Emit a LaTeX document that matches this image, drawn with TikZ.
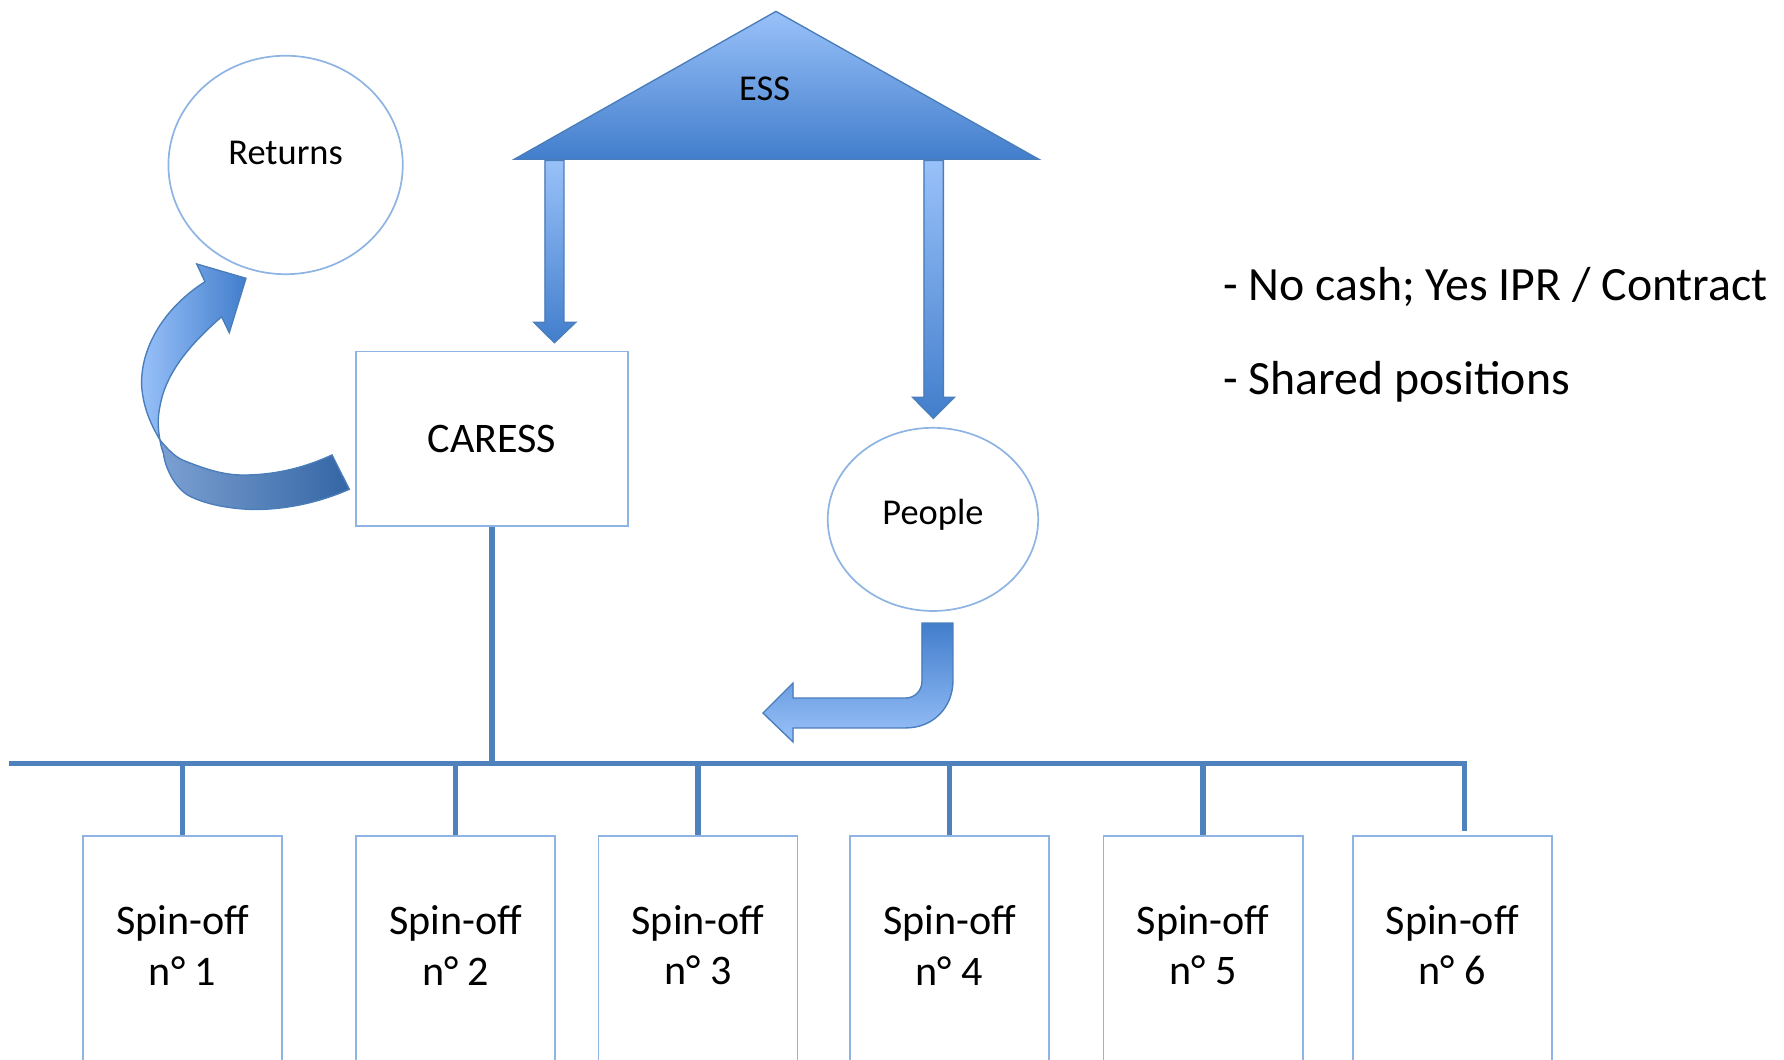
\documentclass[tikz,border=0pt]{standalone}
\usepackage{fontspec}
\setmainfont{Carlito}
\usepackage{tikz}
\usetikzlibrary{positioning,shapes.geometric}

\definecolor{outlineblue}{RGB}{141,180,226}
\definecolor{busblue}{RGB}{79,129,189}
\definecolor{edgeblue}{RGB}{74,126,187}
\definecolor{lightfill}{RGB}{153,193,249}
\definecolor{darkfill}{RGB}{66,126,204}
\definecolor{foldlight}{RGB}{124,160,210}
\definecolor{folddark}{RGB}{52,102,164}

\begin{document}
\begin{tikzpicture}[x=1pt,y=-1pt,
  boxline/.style={draw=outlineblue,line width=1.5pt},
  bus/.style={draw=busblue,line width=4.8pt},
  blockarrow/.style={draw=edgeblue,line width=1.2pt,top color=lightfill,bottom color=darkfill},
  txt/.style={font=\fontsize{32}{38}\selectfont,inner sep=0pt},
  bigtxt/.style={font=\fontsize{37}{44}\selectfont,inner sep=0pt},
  sidetxt/.style={font=\fontsize{42}{50}\selectfont,inner sep=0pt,anchor=base west}]
\useasboundingbox (0,0) rectangle (1568,931);
\clip (0,0) rectangle (1568,931);

% ESS roof
\coordinate (roof) at (682,10);
\coordinate (eaveL) at (452,140);
\coordinate (eaveR) at (913,140);
\filldraw[blockarrow] (roof) -- (eaveR) -- (eaveL) -- cycle;
\node[txt,anchor=base] (ess) at (672,88) {ESS};

% main boxes
\node[boxline,ellipse,txt,minimum width=206,minimum height=192,text height=10pt,text depth=10pt] (returns) at (251,145) {Returns};
\node[boxline,bigtxt,minimum width=239,minimum height=153] (caress) at (432.5,385.5) {CARESS};
\node[boxline,ellipse,txt,minimum width=185,minimum height=161,text height=20pt,text depth=11pt] (people) at (820,456.5) {People};

% arrows down from the roof
\filldraw[blockarrow] (479,141) -- (495.7,141) -- (495.7,283.3) -- (506,283.3) -- (487.3,301.2) -- (469.3,283.3) -- (479,283.3) -- cycle;
\filldraw[blockarrow] (812.1,141) -- (829.1,141) -- (829.1,349.2) -- (838.8,349.2) -- (820.3,367.7) -- (802.1,349.2) -- (812.1,349.2) -- cycle;

% people -> spin-offs
\filldraw[blockarrow,top color=darkfill,bottom color=lightfill] (810.3,547.6) -- (837.6,547.6) -- (837.6,598)
  .. controls (837.6,622) and (820,639.8) .. (796,639.8) -- (697,639.8) -- (697,652.1) -- (670.6,626.7)
  -- (697,600.3) -- (697,613.5) -- (796,613.5) .. controls (804,613.5) and (810.3,607) .. (810.3,599) -- cycle;

% caress -> returns (twisted band)
\filldraw[draw=edgeblue,line width=1.2pt,left color=foldlight,right color=folddark] (140.6,386.7)
  .. controls (150,398) and (156,403) .. (164.1,405.8) .. controls (185,414) and (200,418) .. (216.8,417.5)
  .. controls (245,417) and (270,410) .. (291.8,399.9) -- (307,430)
  .. controls (280,442) and (250,448) .. (222.6,447.8) .. controls (195,447) and (175,441) .. (164.1,434.6)
  .. controls (152,426) and (145,410) .. (143.6,398.4) .. controls (142,394) and (141,390) .. (140.6,386.7) -- cycle;
\filldraw[draw=edgeblue,line width=1.2pt,left color=lightfill,right color=darkfill] (180.2,247.6)
  -- (172.9,232) -- (216.2,244.6) -- (201.5,292.4) -- (194.8,278.4)
  .. controls (170,300) and (147,325) .. (141,355) .. controls (138,368) and (139,378) .. (140.6,386.7)
  .. controls (132,372) and (126,358) .. (124.5,339.8) .. controls (123,305) and (145,270) .. (180.2,247.6) -- cycle;

% spin-offs
\foreach \i/\x in {1/160.5,2/400.5,3/613.5,4/834.5,5/1057.5,6/1276.5}{
  \node[boxline,minimum width=175,minimum height=240,anchor=north] (box\i) at (\x,734) {};
  \node[bigtxt,align=center] (spin\i) at (\x,831) {Spin-off\\n° \i};
}

% bus
\coordinate (busL) at (8,671);
\coordinate (busR) at (1287,671);
\draw[bus] (caress.south) -- (caress.south |- busL);
\draw[bus] (busL) -- (busR) -- (1287,730);
\foreach \i in {1,...,5}
  \draw[bus] (box\i.north |- busL) -- (box\i.north);

% notes
\node[sidetxt] (nocash) at (1075,264) {- No cash; Yes IPR / Contract};
\node[sidetxt] (shared) at (1075,347) {- Shared positions};
\end{tikzpicture}
\end{document}
